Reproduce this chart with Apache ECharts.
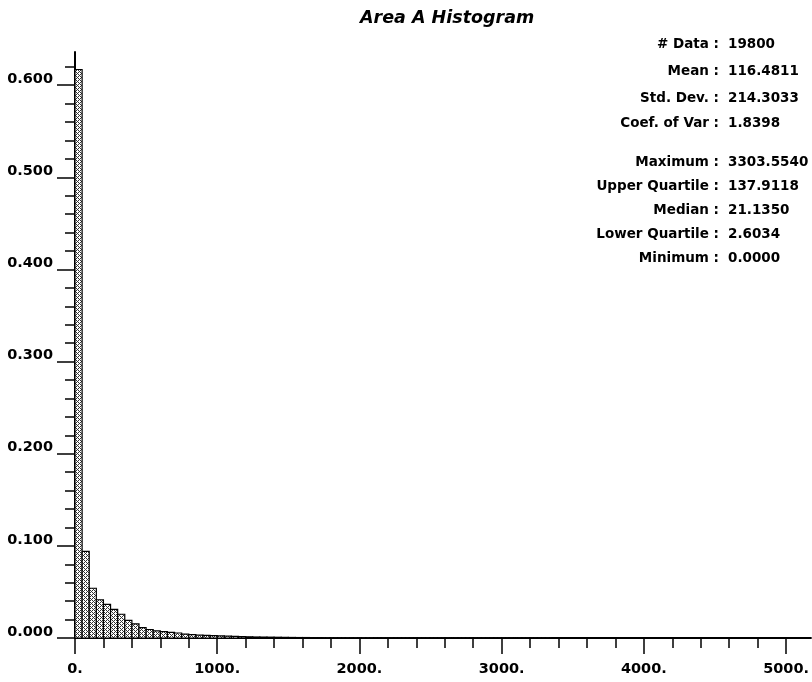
<!DOCTYPE html>
<html><head><meta charset="utf-8">
<script src="https://cdn.jsdelivr.net/npm/echarts@6/dist/echarts.min.js"></script>
<style>html,body{margin:0;padding:0;background:#fff}#c{width:812px;height:682px}</style>
</head><body><div id="c"></div>
<script>
const titleText = 'Area A Histogram';
const binWidth = 50;
const frequencies = [
  0.617, 0.094, 0.054, 0.0415, 0.0365, 0.031, 0.0258, 0.0192, 0.0153, 0.0113,
  0.0092, 0.0077, 0.0069, 0.0062, 0.0054, 0.0042, 0.0036, 0.0032, 0.0028, 0.0025,
  0.0022, 0.0020, 0.0017, 0.0015, 0.0013, 0.0011, 0.0010, 0.0009, 0.0008, 0.0007,
  0.0006, 0.0005, 0.0005, 0.0004, 0.0004, 0.0003, 0.0003, 0.0003, 0.0002, 0.0002,
  0.0002, 0.0002, 0.0001, 0.0001, 0.0001, 0.0001, 0.0001, 0.0001, 0.0001, 0.0001,
  0.0001, 0.0001, 0.0001, 0.0001, 0.0001, 0.0001, 0.0001, 0.0001, 0.0001, 0.0001,
  0.0001, 0.0001, 0.0001, 0.0001, 0.0001, 0.0001, 0.0001
];
const xMajorTicks = [0, 1000, 2000, 3000, 4000, 5000];
const xMinorTicks = [200, 400, 600, 800, 1200, 1400, 1600, 1800, 2200, 2400, 2600, 2800,
  3200, 3400, 3600, 3800, 4200, 4400, 4600, 4800];
const yMajorTicks = [0, 0.1, 0.2, 0.3, 0.4, 0.5, 0.6];
const yMinorTicks = [0.02, 0.04, 0.06, 0.08, 0.12, 0.14, 0.16, 0.18, 0.22, 0.24, 0.26, 0.28,
  0.32, 0.34, 0.36, 0.38, 0.42, 0.44, 0.46, 0.48, 0.52, 0.54, 0.56, 0.58, 0.62];
const statLabels = ['# Data :', 'Mean :', 'Std. Dev. :', 'Coef. of Var :', 'Maximum :',
  'Upper Quartile :', 'Median :', 'Lower Quartile :', 'Minimum :'];
const statValues = ['19800', '116.4811', '214.3033', '1.8398', '3303.5540',
  '137.9118', '21.1350', '2.6034', '0.0000'];
const statRowY = [44, 71, 98, 123, 162, 186, 210, 234, 258];

const FONT = '"DejaVu Sans", "Liberation Sans", Arial, sans-serif';

function makePattern() {
  const c = document.createElement('canvas');
  c.width = 4; c.height = 4;
  const g = c.getContext('2d');
  g.fillStyle = '#fff'; g.fillRect(0, 0, 4, 4);
  g.fillStyle = '#333';
  [[0,0],[2,0],[1,1],[0,2],[2,2],[3,3]].forEach(p => g.fillRect(p[0], p[1], 1, 1));
  return c;
}
const pattern = { image: makePattern(), repeat: 'repeat' };

const binData = frequencies.map((v, i) => [i * binWidth, (i + 1) * binWidth, v]);

const chart = echarts.init(document.getElementById('c'), null, { renderer: 'canvas' });

const axisText = { color: '#000', fontFamily: FONT, fontWeight: 'bold', fontSize: 14.5 };

const graphics = [];
statLabels.forEach((t, i) => {
  graphics.push({ type: 'text', x: 719, y: statRowY[i],
    style: { text: t, textAlign: 'right', textVerticalAlign: 'middle', fill: '#000',
      font: 'bold 13.5px ' + FONT } });
  graphics.push({ type: 'text', x: 728, y: statRowY[i],
    style: { text: statValues[i], textAlign: 'left', textVerticalAlign: 'middle', fill: '#000',
      font: 'bold 13.5px ' + FONT } });
});

chart.setOption({
  animation: false,
  backgroundColor: '#fff',
  title: { text: titleText, left: 355, top: 4,
    textStyle: { color: '#000', fontFamily: FONT, fontWeight: 'bold', fontStyle: 'italic', fontSize: 17.5 } },
  grid: { left: 75, right: 0, top: 52, bottom: 44, containLabel: false },
  xAxis: [
    { type: 'value', min: 0, max: 5175, position: 'bottom',
      splitLine: { show: false },
      axisLine: { show: true, onZero: false, lineStyle: { color: '#000', width: 2 } },
      axisTick: { show: true, customValues: xMajorTicks, length: 16, lineStyle: { color: '#000', width: 1.5 } },
      axisLabel: { customValues: xMajorTicks, margin: 24, formatter: v => v + '.', ...axisText } },
    { type: 'value', min: 0, max: 5175, position: 'bottom',
      splitLine: { show: false },
      axisLine: { show: false },
      axisTick: { show: true, customValues: xMinorTicks, length: 10, lineStyle: { color: '#000', width: 1.5 } },
      axisLabel: { show: false } }
  ],
  yAxis: [
    { type: 'value', min: 0, max: 0.636, position: 'left',
      splitLine: { show: false },
      axisLine: { show: true, onZero: false, lineStyle: { color: '#000', width: 2 } },
      axisTick: { show: true, customValues: yMajorTicks, length: 18, lineStyle: { color: '#000', width: 1.5 } },
      axisLabel: { customValues: yMajorTicks, margin: 22, verticalAlign: 'bottom', lineHeight: 12,
        formatter: v => v.toFixed(3), ...axisText } },
    { type: 'value', min: 0, max: 0.636, position: 'left',
      splitLine: { show: false },
      axisLine: { show: false },
      axisTick: { show: true, customValues: yMinorTicks, length: 10, lineStyle: { color: '#000', width: 1.5 } },
      axisLabel: { show: false } }
  ],
  graphic: graphics,
  series: [{
    type: 'custom',
    xAxisIndex: 0, yAxisIndex: 0,
    data: binData,
    encode: { x: [0, 1], y: 2 },
    renderItem: function (params, api) {
      const p0 = api.coord([api.value(0), 0]);
      const p1 = api.coord([api.value(1), api.value(2)]);
      return { type: 'rect',
        shape: { x: p0[0], y: p1[1], width: p1[0] - p0[0], height: p0[1] - p1[1] },
        style: { fill: pattern, stroke: '#000', lineWidth: 1.2 } };
    }
  }]
});
</script></body></html>
